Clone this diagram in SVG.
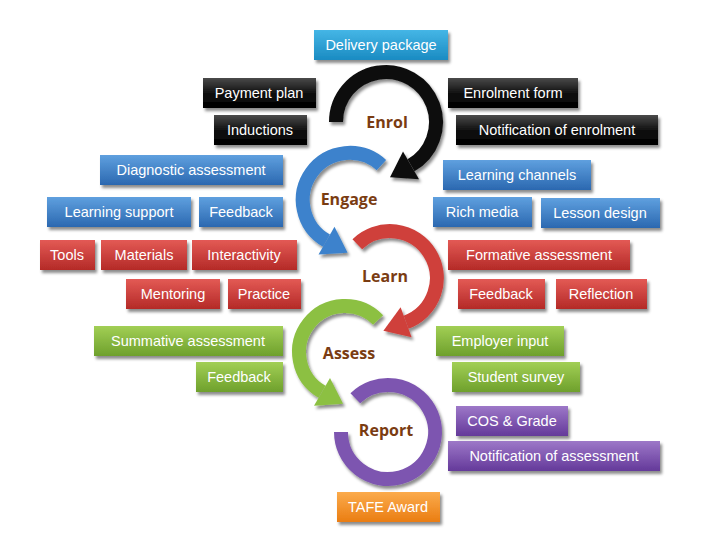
<svg xmlns="http://www.w3.org/2000/svg" width="728" height="546" viewBox="0 0 728 546">
<defs>
<linearGradient id="gK" x1="0" y1="0" x2="0" y2="1"><stop offset="0" stop-color="#4a4a4a"/><stop offset="0.5" stop-color="#111"/><stop offset="1" stop-color="#000"/></linearGradient>
<linearGradient id="gB" x1="0" y1="0" x2="0" y2="1"><stop offset="0" stop-color="#5fa0df"/><stop offset="1" stop-color="#2b68b0"/></linearGradient>
<linearGradient id="gR" x1="0" y1="0" x2="0" y2="1"><stop offset="0" stop-color="#e35a55"/><stop offset="1" stop-color="#b42a27"/></linearGradient>
<linearGradient id="gG" x1="0" y1="0" x2="0" y2="1"><stop offset="0" stop-color="#a2cf55"/><stop offset="1" stop-color="#6ea02c"/></linearGradient>
<linearGradient id="gP" x1="0" y1="0" x2="0" y2="1"><stop offset="0" stop-color="#9d78c8"/><stop offset="1" stop-color="#64399a"/></linearGradient>
<linearGradient id="gO" x1="0" y1="0" x2="0" y2="1"><stop offset="0" stop-color="#fbab4c"/><stop offset="1" stop-color="#ea7d12"/></linearGradient>
<linearGradient id="gC" x1="0" y1="0" x2="0" y2="1"><stop offset="0" stop-color="#45b6e6"/><stop offset="1" stop-color="#1a8bc2"/></linearGradient>
<filter id="sh" x="-10%" y="-20%" width="130%" height="160%"><feDropShadow dx="2" dy="3" stdDeviation="1.5" flood-color="#000" flood-opacity="0.45"/></filter>
</defs>
<style>
.bt{font-family:"Liberation Sans",Arial,sans-serif;font-size:14.5px;fill:#fff;text-anchor:middle}
.st{font-family:"Open Sans","Liberation Sans",sans-serif;font-size:16px;font-weight:bold;fill:#7a3c12;text-anchor:middle}
.arc{fill:none;stroke-width:14}
rect{filter:url(#sh)}
</style>
<rect width="728" height="546" fill="#fff"/>
<g id="connectors" filter="url(#sh)">
<path class="arc" stroke="#111" d="M336,122 A50,50 0 1 1 411,165.3"/>
<polygon fill="#111" points="419,179.2 403,151.4 390,177.3"/>
<path class="arc" stroke="#3c82cc" d="M381.4,165.1 A47,47 0 1 0 326.5,240.7"/>
<polygon fill="#3c82cc" points="318.5,254.6 334.5,226.8 347.6,252.7"/>
<path class="arc" stroke="#cf3f3b" d="M357.3,244.2 A47,47 0 1 1 406.1,322.2"/>
<polygon fill="#cf3f3b" points="411.6,337.2 400.6,307.2 383.4,330.7"/>
<path class="arc" stroke="#8cc043" d="M378.1,320 A46,46 0 1 0 322,391.8"/>
<polygon fill="#8cc043" points="314,405.7 330,377.9 343.1,403.8"/>
<path class="arc" stroke="#7d55b0" d="M355.3,398.2 A47,47 0 1 1 341,432"/>
</g>
<g id="steps">
<text class="st" x="387" y="128">Enrol</text>
<text class="st" x="349" y="205">Engage</text>
<text class="st" x="385" y="282">Learn</text>
<text class="st" x="349" y="359">Assess</text>
<text class="st" x="386" y="436">Report</text>
</g>
<g id="n1"><rect x="314" y="30" width="134" height="30" fill="url(#gC)"/><text class="bt" x="381" y="50">Delivery package</text></g>
<g id="n2"><rect x="203" y="78" width="113" height="30" fill="url(#gK)"/><text class="bt" x="259" y="98">Payment plan</text></g>
<g id="n3"><rect x="448" y="78" width="130" height="30" fill="url(#gK)"/><text class="bt" x="513" y="98">Enrolment form</text></g>
<g id="n4"><rect x="214" y="115" width="93" height="30" fill="url(#gK)"/><text class="bt" x="260" y="135">Inductions</text></g>
<g id="n5"><rect x="456" y="115" width="202" height="30" fill="url(#gK)"/><text class="bt" x="557" y="135">Notification of enrolment</text></g>
<g id="n6"><rect x="100" y="155" width="183" height="30" fill="url(#gB)"/><text class="bt" x="191" y="175">Diagnostic assessment</text></g>
<g id="n7"><rect x="443" y="160" width="148" height="30" fill="url(#gB)"/><text class="bt" x="517" y="180">Learning channels</text></g>
<g id="n8"><rect x="47" y="197" width="144" height="30" fill="url(#gB)"/><text class="bt" x="119" y="217">Learning support</text></g>
<g id="n9"><rect x="199" y="197" width="84" height="30" fill="url(#gB)"/><text class="bt" x="241" y="217">Feedback</text></g>
<g id="n10"><rect x="433" y="197" width="99" height="30" fill="url(#gB)"/><text class="bt" x="482" y="217">Rich media</text></g>
<g id="n11"><rect x="541" y="198" width="119" height="30" fill="url(#gB)"/><text class="bt" x="600" y="218">Lesson design</text></g>
<g id="n12"><rect x="40" y="240" width="55" height="30" fill="url(#gR)"/><text class="bt" x="67" y="260">Tools</text></g>
<g id="n13"><rect x="101" y="240" width="86" height="30" fill="url(#gR)"/><text class="bt" x="144" y="260">Materials</text></g>
<g id="n14"><rect x="192" y="240" width="105" height="30" fill="url(#gR)"/><text class="bt" x="244" y="260">Interactivity</text></g>
<g id="n15"><rect x="448" y="240" width="182" height="30" fill="url(#gR)"/><text class="bt" x="539" y="260">Formative assessment</text></g>
<g id="n16"><rect x="126" y="279" width="94" height="30" fill="url(#gR)"/><text class="bt" x="173" y="299">Mentoring</text></g>
<g id="n17"><rect x="228" y="279" width="73" height="30" fill="url(#gR)"/><text class="bt" x="264" y="299">Practice</text></g>
<g id="n18"><rect x="458" y="279" width="87" height="30" fill="url(#gR)"/><text class="bt" x="501" y="299">Feedback</text></g>
<g id="n19"><rect x="556" y="279" width="91" height="30" fill="url(#gR)"/><text class="bt" x="601" y="299">Reflection</text></g>
<g id="n20"><rect x="94" y="326" width="189" height="30" fill="url(#gG)"/><text class="bt" x="188" y="346">Summative assessment</text></g>
<g id="n21"><rect x="436" y="326" width="128" height="30" fill="url(#gG)"/><text class="bt" x="500" y="346">Employer input</text></g>
<g id="n22"><rect x="196" y="362" width="87" height="30" fill="url(#gG)"/><text class="bt" x="239" y="382">Feedback</text></g>
<g id="n23"><rect x="452" y="362" width="128" height="30" fill="url(#gG)"/><text class="bt" x="516" y="382">Student survey</text></g>
<g id="n24"><rect x="456" y="406" width="112" height="30" fill="url(#gP)"/><text class="bt" x="512" y="426">COS &amp; Grade</text></g>
<g id="n25"><rect x="448" y="441" width="212" height="30" fill="url(#gP)"/><text class="bt" x="554" y="461">Notification of assessment</text></g>
<g id="n26"><rect x="337" y="492" width="103" height="30" fill="url(#gO)"/><text class="bt" x="388" y="512">TAFE Award</text></g>
</svg>
